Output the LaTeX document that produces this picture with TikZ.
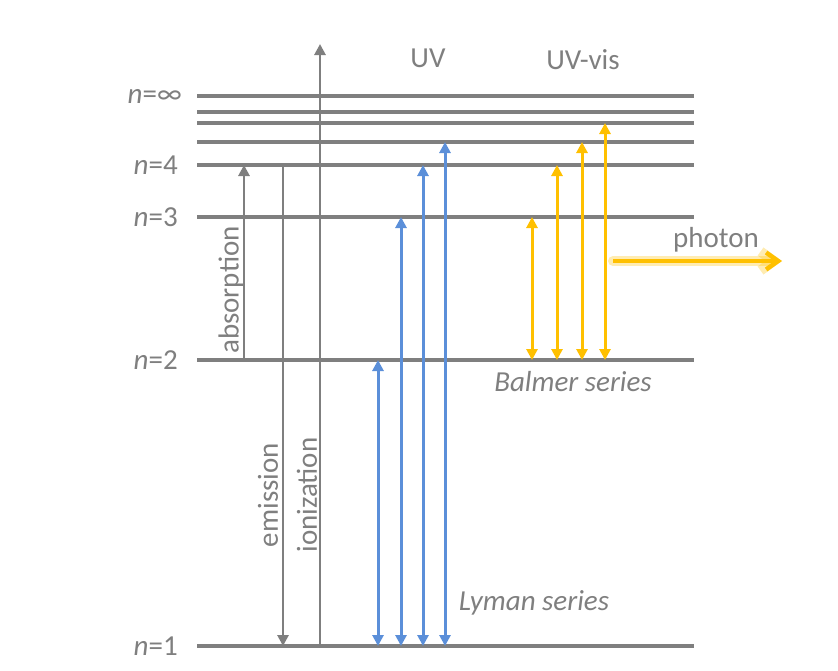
\documentclass[tikz,border=0pt]{standalone}
\usepackage{fontspec}
\setmainfont{Carlito}
\usetikzlibrary{arrows.meta}
\definecolor{lvlgray}{HTML}{7F7F7F}
\definecolor{lymanblue}{HTML}{5B8FD9}
\definecolor{balmeryellow}{HTML}{FFC000}
\begin{document}
\begin{tikzpicture}[x=1pt,y=-1pt,>={Triangle[length=11pt,width=11pt]},font=\fontsize{29}{32}\selectfont,
		level/.style={draw=lvlgray,line width=3.2pt},
		trans/.style={lvlgray,line width=2.8pt,->},
		lyman/.style={lymanblue,line width=3pt,<->},
		balmer/.style={balmeryellow,line width=3pt,<->},
		lbl/.style={text=lvlgray,inner sep=0pt}]
		\useasboundingbox (0,0) rectangle (838,670);
		% energy levels
		\foreach \name/\y in {n1/646,n2/360,n3/217,n4/165,n5/142,n6/123,n7/112,ninf/96}
			\coordinate (\name) at (0,\y);
		\foreach \name in {n1,n2,n3,n4,n5,n6,n7,ninf}
			\draw[level] (197,0 |- \name) -- (694,0 |- \name);
		\node[lbl,anchor=east] (lninf) at (182,96) {\textit{n}=∞};
		\node[lbl,anchor=east] (ln4) at (178,165) {\textit{n}=4};
		\node[lbl,anchor=east] (ln3) at (178,217) {\textit{n}=3};
		\node[lbl,anchor=east] (ln2) at (178,360) {\textit{n}=2};
		\node[lbl,anchor=east] (ln1) at (178,646) {\textit{n}=1};
		% absorption, emission, ionization
		\coordinate (emtop) at (283,167);
		\coordinate (iontop) at (320,44);
		\draw[trans] (244,0 |- n2) -- (244,0 |- n4);
		\draw[trans] (emtop) -- (emtop |- n1);
		\draw[trans] (iontop |- n1) -- (iontop);
		\node[lbl,rotate=90] (abs) at (231,290) {absorption};
		\node[lbl,rotate=90] (emi) at (268,495) {emission};
		\node[lbl,rotate=90] (ion) at (307,495) {ionization};
		% Lyman series
		\foreach \x/\top in {378/n2,401/n3,423/n4,445/n5}
			\draw[lyman] (\x,0 |- n1) -- (\x,0 |- \top);
		% Balmer series
		\foreach \x/\top in {532/n3,557/n4,582/n5,605/n6}
			\draw[balmer] (\x,0 |- n2) -- (\x,0 |- \top);
		% photon
		\coordinate (ph0) at (613,261);
		\coordinate (ph1) at (782,261);
		\draw[balmeryellow,line width=10pt,opacity=0.3,line cap=round,-{Straight Barb[length=13pt,width=19pt]}] (ph0) -- (ph1);
		\draw[balmeryellow,line width=4.5pt,-{Straight Barb[length=12pt,width=17pt]}] (ph0) -- (ph1);
		\node[lbl] (pht) at (716,240) {photon};
		\node[lbl] (uv) at (428,58) {UV};
		\node[lbl] (uvvis) at (583,60) {UV-vis};
		\node[lbl,font=\fontsize{29}{32}\selectfont\itshape] (balmer) at (573,382) {Balmer series};
		\node[lbl,font=\fontsize{29}{32}\selectfont\itshape] (lyman) at (534,603) {Lyman series};
\end{tikzpicture}
\end{document}
